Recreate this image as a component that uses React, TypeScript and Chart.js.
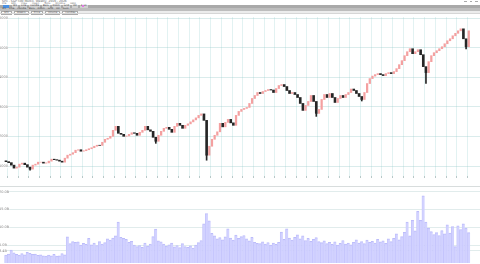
import React, { useEffect, useRef } from "react";
import { Chart, registerables } from "chart.js";
Chart.register(...registerables);

// ---------- data ----------
const YEAR_LABELS = ["2016", "2017", "2018", "2019", "2020", "2021", "2022", "2023", "2024", "2025", "2026"];
const PRICE_TICKS = [1000, 2000, 3000, 4000, 5000, 6000];
const VOLUME_TICKS = [3.4, 5, 10, 15, 20];
const FIRST_OPEN = 1180;
const CLOSES = [
  1151, 1118, 1034, 933, 966, 1067, 1101, 1050, 966, 899,
  1034, 1067, 1134, 1134, 1101, 1110, 1168, 1235, 1218, 1202,
  1168, 1134, 1269, 1370, 1403, 1454, 1538, 1554, 1504, 1521,
  1554, 1588, 1622, 1672, 1706, 1700, 1806, 1907, 1941, 2008,
  2210, 2344, 2109, 2075, 2008, 2020, 2075, 2126, 2109, 2042,
  2142, 2210, 2344, 2226, 2176, 1974, 1840, 2042, 2176, 2277,
  2310, 2243, 2142, 2344, 2445, 2378, 2277, 2378, 2428, 2495,
  2562, 2630, 2714, 2764, 2546, 1370, 1672, 1907, 2042, 2159,
  2445, 2327, 2478, 2579, 2462, 2378, 2714, 2848, 2915, 2949,
  2982, 3117, 3285, 3386, 3486, 3453, 3520, 3554, 3587, 3570,
  3486, 3621, 3722, 3755, 3688, 3554, 3453, 3486, 3419, 3318,
  3117, 2882, 3050, 3184, 3386, 3184, 2781, 2915, 3251, 3419,
  3318, 3453, 3318, 3150, 3285, 3386, 3318, 3419, 3486, 3604,
  3554, 3453, 3352, 3251, 3486, 3789, 3957, 4041, 4091, 4125,
  4091, 4058, 4125, 4158, 4125, 4192, 4293, 4427, 4562, 4730,
  4864, 4965, 4797, 4864, 4931, 4763, 4360, 4158, 4528, 4730,
  4830, 4898, 4965, 5032, 5133, 5234, 5301, 5402, 5486, 5570,
  5637, 5301, 5032, 5570,
];
// sparse long lower wicks: [candle index, low]
const WICK_LOWS: [number, number][] = [
  [9, 860], [56, 1770], [75, 1200], [116, 2680], [133, 3200], [157, 3790], [172, 4960],
];
const VOLUMES = [
  2.2, 2.5, 3.6, 2.8, 2.4, 2.2, 2.6, 2.3, 3.0, 2.7,
  2.4, 2.5, 2.1, 2.3, 2.0, 1.9, 2.2, 2.0, 2.4, 1.9,
  2.0, 2.6, 2.3, 7.3, 5.4, 6.0, 5.8, 5.9, 5.0, 5.5,
  5.2, 6.9, 5.1, 5.6, 4.9, 6.0, 5.3, 5.7, 6.8, 6.4,
  7.0, 7.6, 11.5, 7.2, 6.9, 6.6, 5.8, 6.1, 5.0, 4.6,
  4.9, 4.4, 5.6, 4.7, 5.3, 7.4, 9.5, 6.2, 5.9, 5.3,
  4.7, 5.1, 5.6, 4.5, 4.9, 4.3, 5.4, 4.6, 4.4, 4.8,
  4.2, 5.0, 5.7, 6.3, 11.0, 13.9, 11.8, 8.3, 7.6, 6.8,
  7.1, 6.5, 7.3, 9.6, 7.0, 6.4, 7.8, 6.9, 7.4, 7.7,
  6.8, 6.2, 7.2, 5.8, 5.5, 5.4, 5.9, 5.3, 5.7, 5.0,
  5.6, 5.2, 5.8, 8.7, 6.6, 9.6, 7.0, 6.4, 7.2, 7.9,
  6.8, 7.6, 6.3, 6.9, 6.1, 6.6, 7.1, 6.0, 5.7, 6.2,
  5.4, 5.8, 5.2, 5.9, 5.0, 5.5, 6.3, 5.3, 5.6, 5.1,
  5.8, 6.5, 5.6, 6.0, 5.4, 6.4, 5.8, 6.1, 5.6, 6.6,
  5.9, 6.2, 5.5, 6.8, 6.0, 6.9, 8.2, 6.5, 7.4, 8.6,
  11.5, 7.6, 12.0, 9.0, 14.5, 12.0, 18.9, 11.5, 9.8, 8.8,
  8.0, 8.5, 7.7, 9.1, 8.2, 10.7, 8.4, 10.2, 4.6, 10.4,
  9.4, 11.0, 9.8, 8.5,
];
const TITLE = "SPX - S&P 500 INDEX, Weekly, 2016 - 2026";
const MENU_ITEMS = ["File", "Edit", "View", "Insert", "Tools", "Window", "Help"];
const TOOL_ITEMS = ["W1", "Line", "Candle", "Bars", "Zoom", "Grid", "Vol", "Auto"];

// ---------- layout constants ----------
const X_MIN = -2.24;
const X_MAX = 177.2;
const PER_QUARTER = 4;
const PER_YEAR = 16;
const UP = "#f4a0a0";
const DOWN = "#262626";
const GRID_V = "rgba(150,210,210,0.28)";
const GRID_H = "rgba(150,200,200,0.35)";

export default function App() {
  const priceRef = useRef<HTMLCanvasElement>(null);
  const volRef = useRef<HTMLCanvasElement>(null);

  useEffect(() => {
    document.body.style.margin = "0";
    const opens = CLOSES.map((c, i) => (i === 0 ? FIRST_OPEN : CLOSES[i - 1]));
    const upBodies = CLOSES.map((c, i) => ({ x: i, y: [opens[i], c] })).filter((_, i) => CLOSES[i] >= opens[i]);
    const downBodies = CLOSES.map((c, i) => ({ x: i, y: [opens[i], c] })).filter((_, i) => CLOSES[i] < opens[i]);
    const wicks = WICK_LOWS.map(([i, lo]) => ({ x: i, y: [lo, Math.min(opens[i], CLOSES[i])] }));
    const wickColors = WICK_LOWS.map(([i]) => (CLOSES[i] >= opens[i] ? UP : DOWN));

    const gridTicks: number[] = [];
    for (let v = PER_QUARTER / 2 + 0.5; v <= CLOSES.length; v += PER_QUARTER) gridTicks.push(v);
    const labelTicks = YEAR_LABELS.map((_, k) => 8.5 + k * PER_YEAR);

    const price = new Chart(priceRef.current!, {
      type: "bar",
      data: {
        datasets: [
          { data: wicks as any, backgroundColor: wickColors, barThickness: 1, grouped: false } as any,
          { data: upBodies as any, backgroundColor: UP, barThickness: 1.6, grouped: false } as any,
          { data: downBodies as any, backgroundColor: DOWN, barThickness: 2, grouped: false } as any,
        ],
      },
      options: {
        animation: false,
        responsive: false,
        maintainAspectRatio: false,
        events: [],
        layout: { padding: 0 },
        plugins: { legend: { display: false }, tooltip: { enabled: false } },
        scales: {
          x: {
            type: "linear",
            min: X_MIN,
            max: X_MAX,
            offset: false,
            position: "bottom",
            afterBuildTicks: (s: any) => {
              s.ticks = gridTicks.map((v) => ({ value: v }));
            },
            afterFit: (s: any) => {
              s.height = 3;
            },
            grid: { color: GRID_V, lineWidth: 1, drawTicks: true, tickLength: 2, tickColor: "#b8c8c8" },
            border: { display: false },
            ticks: { display: false },
          },
          x2: {
            type: "linear",
            min: X_MIN,
            max: X_MAX,
            offset: false,
            position: "bottom",
            afterBuildTicks: (s: any) => {
              s.ticks = labelTicks.map((v) => ({ value: v }));
            },
            afterFit: (s: any) => {
              s.height = 8;
            },
            grid: { display: false },
            border: { display: false },
            ticks: {
              autoSkip: false,
              maxRotation: 0,
              padding: 2,
              color: "#999",
              font: { size: 3.5, family: "DejaVu Sans" },
              callback: (_v: any, idx: number) => YEAR_LABELS[idx],
            },
          },
          y: {
            type: "linear",
            min: 667,
            max: 6033,
            position: "left",
            afterBuildTicks: (s: any) => {
              s.ticks = PRICE_TICKS.map((v) => ({ value: v }));
            },
            afterFit: (s: any) => {
              s.width = 0;
            },
            grid: { color: GRID_H, drawTicks: false },
            border: { display: false },
            ticks: {
              mirror: true,
              padding: -1,
              color: "#888",
              font: { size: 3.5, family: "DejaVu Sans" },
              showLabelBackdrop: true,
              backdropColor: "#ffffff",
              backdropPadding: 0,
              callback: (v: any) => String(v),
            },
          },
        },
      } as any,
    });

    const vol = new Chart(volRef.current!, {
      type: "bar",
      data: {
        datasets: [
          {
            data: VOLUMES.map((v, i) => ({ x: i, y: v })) as any,
            backgroundColor: "rgba(208,208,255,0.95)",
            borderColor: "rgba(188,188,250,1)",
            borderWidth: { top: 1, left: 0.5, right: 0, bottom: 0 },
            barThickness: 2.68,
          } as any,
        ],
      },
      options: {
        animation: false,
        responsive: false,
        maintainAspectRatio: false,
        events: [],
        layout: { padding: 0 },
        plugins: { legend: { display: false }, tooltip: { enabled: false } },
        scales: {
          x: { type: "linear", min: X_MIN, max: X_MAX, offset: false, display: false },
          y: {
            type: "linear",
            min: 0,
            max: 21.04,
            position: "left",
            afterBuildTicks: (s: any) => {
              s.ticks = VOLUME_TICKS.map((v) => ({ value: v }));
            },
            afterFit: (s: any) => {
              s.width = 0;
            },
            grid: { color: "rgba(170,200,200,0.35)", drawTicks: false },
            border: { display: false },
            ticks: {
              mirror: true,
              padding: -1,
              color: "#888",
              font: { size: 3.5, family: "DejaVu Sans" },
              showLabelBackdrop: true,
              backdropColor: "#ffffff",
              backdropPadding: 0,
              callback: (v: any) => Number(v).toFixed(1) + "B",
            },
          },
        },
      } as any,
    });

    return () => {
      price.destroy();
      vol.destroy();
    };
  }, []);

  const tiny: React.CSSProperties = { fontSize: 3, lineHeight: "3px", whiteSpace: "nowrap", position: "absolute" };

  return (
    <div
      style={{
        position: "fixed",
        left: 0,
        top: 0,
        width: 480,
        height: 264,
        background: "#fff",
        overflow: "hidden",
        fontFamily: '"DejaVu Sans", sans-serif',
      }}
    >
      {/* title row */}
      <div style={{ ...tiny, left: 2, top: 0, color: "#666" }}>{TITLE}</div>
      <div style={{ position: "absolute", right: 2, top: 0.5, width: 14, height: 2, display: "flex", gap: 3 }}>
        <span style={{ width: 3, height: 1.5, background: "#aaa" }} />
        <span style={{ width: 3, height: 1.5, background: "#aaa" }} />
        <span style={{ width: 3, height: 1.5, background: "#aaa" }} />
      </div>
      {/* menu row */}
      <div style={{ position: "absolute", left: 2, top: 3, display: "flex", gap: 5 }}>
        {MENU_ITEMS.map((m) => (
          <span key={m} style={{ fontSize: 2.5, lineHeight: "2px", color: "#777" }}>
            {m}
          </span>
        ))}
      </div>
      {/* toolbar band 1 */}
      <div style={{ position: "absolute", left: 0, top: 5, width: 480, height: 2.5, background: "#a9a9a9" }} />
      <div style={{ position: "absolute", left: 3, top: 5, width: 6, height: 2.5, background: "#4a90e2" }} />
      <div style={{ position: "absolute", left: 12, top: 5, display: "flex", gap: 2 }}>
        {TOOL_ITEMS.map((t) => (
          <span key={t} style={{ fontSize: 2.5, lineHeight: "2.5px", color: "#333", background: "#cfcfcf", padding: "0 1px" }}>
            {t}
          </span>
        ))}
      </div>
      <div style={{ position: "absolute", left: 82, top: 5, width: 2, height: 2, background: "#e37be3" }} />
      {/* toolbar band 2 */}
      <div style={{ position: "absolute", left: 0, top: 7.5, width: 480, height: 3, background: "#bdbdbd" }} />
      <div style={{ position: "absolute", left: 2, top: 8, display: "flex", gap: 3 }}>
        {TOOL_ITEMS.map((t) => (
          <span key={"b" + t} style={{ fontSize: 2.5, lineHeight: "2px", color: "#444" }}>
            {t}
          </span>
        ))}
      </div>
      {/* toolbar band 3 */}
      <div style={{ position: "absolute", left: 0, top: 10.5, width: 480, height: 2.5, background: "#ececec" }} />
      <div style={{ position: "absolute", left: 1, top: 10.5, display: "flex", gap: 2 }}>
        {["SPX", "Weekly", "Price", "Volume", "Candles"].map((t) => (
          <span
            key={"c" + t}
            style={{ fontSize: 2.5, lineHeight: "2px", color: "#555", background: "#fff", border: "0.5px solid #aaa", padding: "0 2px" }}
          >
            {t}
          </span>
        ))}
      </div>
      <div style={{ position: "absolute", left: 0, top: 13, width: 480, height: 0.5, background: "#d6d6d6" }} />

      <canvas ref={priceRef} width={480} height={171} style={{ position: "absolute", left: 0, top: 16, width: 480, height: 171 }} />
      <div style={{ position: "absolute", left: 0, top: 186, width: 480, height: 1, background: "#d8dddd" }} />
      <canvas ref={volRef} width={480} height={77} style={{ position: "absolute", left: 0, top: 187, width: 480, height: 77 }} />
    </div>
  );
}
